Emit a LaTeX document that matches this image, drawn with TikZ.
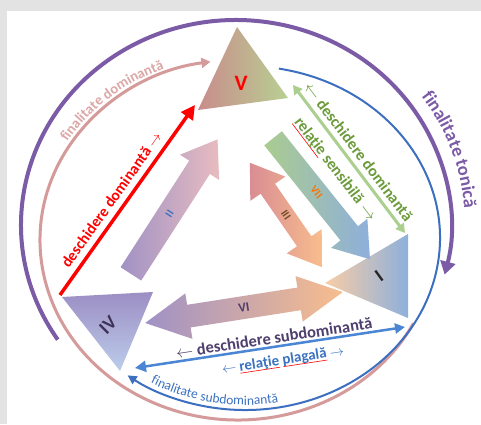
\documentclass[tikz,border=0pt]{standalone}
\usepackage{fontspec}
\setmainfont{Carlito}
\usetikzlibrary{arrows.meta,shapes.arrows,decorations.text}

\definecolor{tonic}{HTML}{7B5AA6}
\definecolor{domarc}{HTML}{D59A9A}
\definecolor{domtext}{HTML}{DCA7A7}
\definecolor{subarc}{HTML}{3D6FC0}
\definecolor{deschgreen}{HTML}{AACF8E}
\definecolor{greentext}{HTML}{6B9B3A}
\definecolor{sdblue}{HTML}{4A86D4}
\definecolor{sdtext}{HTML}{4F3F6E}
\definecolor{plagblue}{HTML}{3B72C0}
\definecolor{roseV}{HTML}{C98C8C}
\definecolor{greenV}{HTML}{B8D092}
\definecolor{peachI}{HTML}{F9CDA6}
\definecolor{midI}{HTML}{D2B8A8}
\definecolor{blueI}{HTML}{8DB0DC}
\definecolor{purpIV}{HTML}{9C8EC4}
\definecolor{blueIV}{HTML}{BCCDEB}
\definecolor{purpA}{HTML}{A092C5}
\definecolor{pinkA}{HTML}{E8BCC0}
\definecolor{greenA}{HTML}{ABCC8F}
\definecolor{blueA}{HTML}{8EAFDC}
\definecolor{roseA}{HTML}{D98D94}
\definecolor{orangeA}{HTML}{F8BD8D}

\newcommand\spellmark[1]{{\setbox0\hbox{#1}\rlap{\textcolor{red}{\rule[-2.5pt]{\wd0}{0.6pt}}}\box0}}

\tikzset{
  fat/.style={single arrow, single arrow tip angle=70, inner xsep=2pt,
    font=\bfseries\fontsize{11}{11}\selectfont},
  fatboth/.style={double arrow, inner xsep=2pt,
    font=\bfseries\fontsize{11}{11}\selectfont},
  roman/.style={font=\bfseries\fontsize{19}{19}\selectfont},
  relation/.style={font=\bfseries\fontsize{#1}{#1}\selectfont, inner sep=2pt},
}

\begin{document}
\begin{tikzpicture}[x=1pt,y=1pt]
  \useasboundingbox (0,0) rectangle (481,424);
  \fill[gray!22] (0,0) rectangle (481,424);
  \fill[white] (7,0) rectangle (481,413);

  % outer arcs
  \draw[tonic, line width=4pt, -{Triangle[length=13pt,width=15pt]}]
    (236,199) ++(214:215 and 205) arc[start angle=214, end angle=-14, x radius=215, y radius=205];
  \draw[domarc, line width=3pt, -{Triangle[length=9pt,width=10pt]}]
    (238,184) ++(-27.6:198 and 180) arc[start angle=-27.6, end angle=-262, x radius=198, y radius=180];
  \draw[subarc, line width=2pt, -{Triangle[length=9pt,width=9pt]}]
    (245,186) ++(80:195 and 172) arc[start angle=80, end angle=-127, x radius=195, y radius=172];

  \path[decorate, decoration={text along path, text align=center,
      text={|\bfseries\fontsize{18.5}{18.5}\selectfont\color{tonic}|finalitate tonică}}]
    (236,199) ++(50:229 and 219) arc[start angle=50, end angle=-10, x radius=229, y radius=219];
  \path[decorate, decoration={text along path, text align=center,
      text={|\bfseries\fontsize{14.5}{14.5}\selectfont\color{domtext}|finalitate dominantă}}]
    (238,184) ++(160:202 and 184) arc[start angle=160, end angle=100, x radius=202, y radius=184];
  \path[decorate, decoration={text along path, text align=center,
      text={|\fontsize{13.5}{13.5}\selectfont\color{plagblue}|finalitate subdominantă}}]
    (245,186) ++(-132:190 and 167) arc[start angle=-132, end angle=-68, x radius=190, y radius=167];

  % triangles
  \coordinate (vTop) at (237,397);
  \coordinate (vLeft) at (198,314);
  \coordinate (vRight) at (288,326);
  \coordinate (iTop) at (408,190);
  \coordinate (iLeft) at (325,141);
  \coordinate (iBottom) at (408,106);
  \coordinate (ivLeft) at (62,127);
  \coordinate (ivRight) at (153,132);
  \coordinate (ivBottom) at (120,53);
  \shade[left color=roseV, right color=greenV] (vTop) -- (vLeft) -- (vRight) -- cycle;
  \shade[left color=peachI, middle color=midI, right color=blueI] (iTop) -- (iLeft) -- (iBottom) -- cycle;
  \shade[top color=purpIV, bottom color=blueIV] (ivLeft) -- (ivRight) -- (ivBottom) -- cycle;
  \node[roman, text=red, font=\bfseries\fontsize{22}{22}\selectfont] (V) at (241,341) {V};
  \node[roman, text=black!85, rotate=36] (I) at (379,148) {I};
  \node[roman, text=sdtext!80!black, rotate=45] (IV) at (108,99) {IV};

  % inner block arrows
  \node[fat, rotate=57.2, minimum height=160pt, minimum width=46pt, inner ysep=8.5pt,
    single arrow head extend=11pt, left color=purpA, right color=pinkA, text=plagblue] (II) at (169.5,210) {II};
  \node[fat, rotate=-51.3, minimum height=155pt, minimum width=46pt, inner ysep=7.5pt,
    single arrow head extend=12pt, left color=greenA, right color=blueA, text=orange!90!red] (VII) at (316.5,231.5) {VII};
  \node[fatboth, rotate=-55.3, minimum height=127pt, minimum width=42pt, inner ysep=5pt,
    double arrow tip angle=68, double arrow head extend=12.5pt, left color=roseA, right color=orangeA, text=brown!60!black] (III) at (286,209) {III};
  \node[fatboth, rotate=8.9, minimum height=200pt, minimum width=46pt, inner ysep=7pt,
    double arrow tip angle=55, double arrow head extend=11.5pt, left color=purpA, middle color=purpA!45!orangeA, right color=orangeA,
    text=sdtext, font=\bfseries\fontsize{13}{13}\selectfont] (VI) at (244,116.5) {VI};

  % relations
  \coordinate (domA) at (60,129);
  \coordinate (domB) at (195,319);
  \coordinate (grA) at (293,339);
  \coordinate (grB) at (405,191);
  \coordinate (sdA) at (135,56);
  \coordinate (sdB) at (405,97);
  \draw[red, line width=3.5pt, -{Triangle[length=14pt,width=14pt]}] (domA) -- (domB)
    node[pos=.46, sloped, above=4pt, relation=15.5] (domlabel) {deschidere dominantă $\rightarrow$};
  \draw[deschgreen, line width=3pt, {Triangle[length=9pt,width=10pt]}-{Triangle[length=9pt,width=10pt]}] (grA) -- (grB)
    node[pos=.5, sloped, above=3pt, relation=16, text=greentext] (grlabel) {$\leftarrow$ deschidere dominantă}
    node[pos=.5, sloped, below=7pt, relation=16, text=greentext] (senslabel) {\spellmark{relaţie} sensibilă $\rightarrow$};
  \draw[sdblue, line width=2.5pt, {Triangle[length=11pt,width=11pt]}-{Triangle[length=10pt,width=10pt]}] (sdA) -- (sdB)
    node[pos=.52, sloped, above=0pt, relation=16.5, text=sdtext] (sdlabel) {$\leftarrow$ deschidere subdominantă}
    node[pos=.54, sloped, below=5pt, relation=15, text=plagblue] (plaglabel) {$\leftarrow$ \spellmark{relaţie} \spellmark{plagală} $\rightarrow$};
\end{tikzpicture}
\end{document}
